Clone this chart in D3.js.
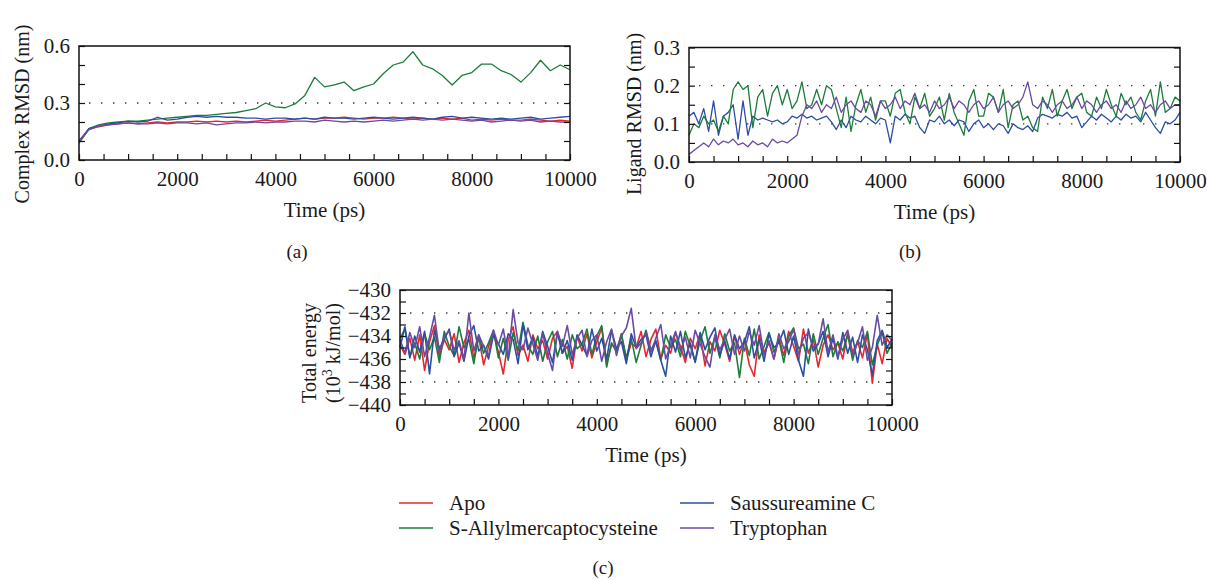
<!DOCTYPE html>
<html>
<head>
<meta charset="utf-8">
<script src="https://cdn.jsdelivr.net/npm/d3@7"></script>
<style>
  body { margin: 0; background: #fff; }
  svg text { font-family: "Liberation Serif", "Times New Roman", serif; fill: #1a1a1a; }
</style>
</head>
<body>
<div id="fig"></div>
<script>
// ---- data ----
const seriesNames = ['Apo', 'S-Allylmercaptocysteine', 'Saussureamine C', 'Tryptophan'];
const seriesColors = ['#e8262d', '#1c7c3a', '#2b4ea3', '#6a4aa2'];

// (a) complex RMSD, sampled every 200 ps
const timeA = d3.range(0, 10001, 200);
const complexApo = [
  0.09, 0.16, 0.175, 0.185, 0.19, 0.195, 0.19, 0.195, 0.2, 0.195,
  0.2, 0.2, 0.205, 0.2, 0.205, 0.2, 0.205, 0.2, 0.205, 0.21,
  0.205, 0.21, 0.215, 0.22, 0.215, 0.22, 0.22, 0.225, 0.22, 0.215,
  0.22, 0.22, 0.225, 0.22, 0.215, 0.22, 0.215, 0.22, 0.215, 0.22,
  0.21, 0.215, 0.21, 0.215, 0.21, 0.21, 0.215, 0.21, 0.205, 0.21,
  0.205];
const complexSAC = [
  0.09, 0.165, 0.185, 0.195, 0.2, 0.205, 0.205, 0.21, 0.215, 0.22,
  0.225, 0.23, 0.235, 0.235, 0.24, 0.245, 0.25, 0.26, 0.27, 0.3,
  0.28, 0.275, 0.295, 0.34, 0.435, 0.385, 0.395, 0.41, 0.365, 0.385,
  0.4, 0.455, 0.5, 0.515, 0.57, 0.5, 0.48, 0.445, 0.395, 0.445,
  0.46, 0.505, 0.505, 0.47, 0.45, 0.41, 0.46, 0.525, 0.47, 0.5,
  0.475];
const complexSaus = [
  0.1, 0.165, 0.18, 0.19, 0.195, 0.205, 0.2, 0.205, 0.225, 0.21,
  0.215, 0.225, 0.23, 0.225, 0.23, 0.225, 0.225, 0.22, 0.22, 0.215,
  0.22, 0.22, 0.215, 0.22, 0.215, 0.225, 0.22, 0.22, 0.215, 0.22,
  0.225, 0.22, 0.215, 0.22, 0.225, 0.22, 0.215, 0.225, 0.23, 0.22,
  0.225, 0.22, 0.215, 0.22, 0.215, 0.22, 0.225, 0.215, 0.22, 0.225,
  0.23];
const complexTrp = [
  0.1, 0.16, 0.18, 0.185, 0.19, 0.195, 0.19, 0.19, 0.195, 0.19,
  0.195, 0.195, 0.19, 0.195, 0.185, 0.19, 0.195, 0.195, 0.2, 0.195,
  0.2, 0.2, 0.205, 0.205, 0.2, 0.21, 0.205, 0.2, 0.205, 0.2,
  0.205, 0.21, 0.205, 0.21, 0.215, 0.21, 0.215, 0.21, 0.215, 0.21,
  0.205, 0.21, 0.2, 0.205, 0.21, 0.205, 0.21, 0.2, 0.205, 0.2,
  0.2];

// (b) ligand RMSD, sampled every 100 ps
const timeB = d3.range(0, 10001, 100);
const ligandSAC = [
  0.07, 0.1, 0.09, 0.12, 0.1, 0.11, 0.08, 0.12, 0.1, 0.19,
  0.21, 0.19, 0.2, 0.09, 0.17, 0.19, 0.12, 0.18, 0.2, 0.15,
  0.19, 0.14, 0.16, 0.21, 0.14, 0.15, 0.19, 0.15, 0.2, 0.19,
  0.14, 0.09, 0.17, 0.08, 0.15, 0.19, 0.13, 0.17, 0.11, 0.16,
  0.16, 0.12, 0.18, 0.19, 0.13, 0.1, 0.17, 0.14, 0.18, 0.12,
  0.14, 0.17, 0.11, 0.18, 0.13, 0.1, 0.07, 0.16, 0.19, 0.12,
  0.12, 0.18, 0.17, 0.13, 0.19, 0.09, 0.15, 0.16, 0.11, 0.12,
  0.09, 0.08, 0.17, 0.14, 0.19, 0.12, 0.16, 0.19, 0.14, 0.17,
  0.18, 0.13, 0.12, 0.17, 0.14, 0.19, 0.15, 0.12, 0.18, 0.15,
  0.17, 0.13, 0.11, 0.16, 0.19, 0.12, 0.21, 0.13, 0.14, 0.17,
  0.16];
const ligandSaus = [
  0.12, 0.13, 0.1, 0.14, 0.08, 0.16, 0.07, 0.12, 0.13, 0.15,
  0.06, 0.16, 0.07, 0.12, 0.11, 0.115, 0.11, 0.105, 0.11, 0.1,
  0.105, 0.12, 0.115, 0.125, 0.115, 0.12, 0.11, 0.115, 0.12, 0.105,
  0.085, 0.11, 0.09, 0.12, 0.11, 0.105, 0.12, 0.11, 0.1, 0.115,
  0.11, 0.05, 0.12, 0.11, 0.125, 0.115, 0.12, 0.09, 0.075, 0.11,
  0.105, 0.12, 0.1, 0.11, 0.095, 0.11, 0.105, 0.08, 0.1, 0.11,
  0.09, 0.1, 0.085, 0.1, 0.095, 0.075, 0.1, 0.09, 0.085, 0.095,
  0.08, 0.115, 0.125, 0.12, 0.115, 0.125, 0.12, 0.13, 0.115, 0.12,
  0.09, 0.105, 0.12, 0.11, 0.125, 0.115, 0.105, 0.12, 0.11, 0.125,
  0.115, 0.12, 0.105, 0.13, 0.11, 0.09, 0.075, 0.105, 0.1, 0.11,
  0.13];
const ligandTrp = [
  0.02, 0.03, 0.04, 0.05, 0.04, 0.06, 0.045, 0.055, 0.05, 0.06,
  0.045, 0.05, 0.04, 0.055, 0.045, 0.05, 0.04, 0.06, 0.05, 0.055,
  0.05, 0.06, 0.07, 0.12, 0.15, 0.14, 0.16, 0.13, 0.15, 0.14,
  0.17, 0.13, 0.15, 0.16, 0.14, 0.13, 0.16, 0.15, 0.12, 0.16,
  0.14, 0.15, 0.17, 0.14, 0.16, 0.15, 0.18, 0.14, 0.15, 0.13,
  0.16, 0.14, 0.15, 0.17, 0.14, 0.16, 0.15, 0.13, 0.15, 0.16,
  0.14, 0.15, 0.17, 0.13, 0.15, 0.16, 0.14, 0.15, 0.17, 0.21,
  0.15, 0.14, 0.16, 0.15, 0.13, 0.15, 0.16, 0.14, 0.15, 0.17,
  0.14, 0.16, 0.15, 0.13, 0.15, 0.16, 0.14, 0.15, 0.13, 0.16,
  0.14, 0.15, 0.17, 0.14, 0.15, 0.13, 0.15, 0.16, 0.14, 0.15,
  0.15];

// (c) total energy (10^3 kJ/mol), sampled every 100 ps
const timeC = d3.range(0, 10001, 100);
const energyApo = [
  -434.8, -435.6, -434.2, -436.1, -433.9, -437.0, -434.5, -433.1, -435.8, -434.3,
  -435.2, -433.8, -436.3, -434.6, -433.5, -435.9, -434.1, -436.5, -434.9, -433.7,
  -435.4, -437.3, -434.3, -433.2, -435.7, -434.8, -436.2, -433.9, -435.1, -434.4,
  -436.0, -434.2, -433.6, -435.5, -434.9, -436.8, -434.0, -435.3, -433.8, -435.9,
  -434.5, -433.3, -436.4, -434.7, -435.2, -433.9, -436.1, -434.6, -435.0, -433.6,
  -435.8, -434.3, -433.4, -436.0, -434.8, -435.5, -433.7, -434.9, -436.3, -434.2,
  -435.1, -433.8, -436.6, -434.5, -435.3, -433.5, -434.7, -436.2, -434.0, -435.6,
  -434.4, -436.5, -437.5, -433.9, -435.4, -434.6, -436.0, -434.2, -435.7, -433.6,
  -434.9, -436.2, -433.4, -435.5, -434.3, -436.7, -434.8, -433.9, -435.2, -434.6,
  -436.0, -433.7, -435.4, -434.5, -435.9, -433.8, -438.1, -434.7, -436.4, -434.2,
  -435.0];
const energySAC = [
  -434.2, -433.4, -435.8, -434.6, -436.0, -433.8, -435.2, -434.1, -436.3, -433.6,
  -434.9, -435.7, -433.2, -435.0, -434.3, -436.4, -433.9, -435.5, -434.6, -433.5,
  -435.9, -434.2, -436.1, -433.7, -435.3, -432.8, -434.8, -435.6, -434.0, -436.2,
  -434.5, -433.6, -435.8, -434.3, -436.0, -433.9, -435.1, -434.7, -433.4, -435.6,
  -434.0, -433.1, -436.7, -434.6, -435.4, -433.8, -435.9, -434.2, -436.3, -434.8,
  -433.5, -435.2, -434.5, -436.1, -433.9, -435.0, -434.3, -435.8, -433.6, -434.9,
  -436.2, -434.4, -433.2, -435.5, -434.1, -435.9, -433.8, -435.3, -434.6, -437.6,
  -434.2, -435.7, -433.4, -436.0, -434.9, -433.7, -435.4, -434.3, -436.3, -434.0,
  -433.3, -435.1, -434.7, -436.4, -433.8, -435.6, -434.2, -433.0, -435.8, -434.5,
  -435.3, -433.9, -436.1, -434.4, -435.0, -433.6, -436.5, -434.8, -433.7, -435.5,
  -434.6];
const energySaus = [
  -435.0, -433.2, -435.9, -434.0, -435.4, -433.6, -437.3, -433.5, -435.1, -434.3,
  -433.4, -435.8, -434.6, -436.2, -434.0, -433.1, -435.3, -434.8, -436.0, -433.9,
  -434.7, -435.6, -433.8, -434.3, -436.4, -433.0, -435.2, -434.1, -435.8, -433.6,
  -434.9, -436.3, -433.7, -435.5, -434.4, -436.1, -433.9, -434.8, -435.7, -433.4,
  -435.3, -434.2, -436.0, -433.5, -435.1, -434.5, -436.4, -433.8, -435.0, -434.3,
  -433.9, -435.8, -434.4, -436.1, -437.5, -434.0, -435.4, -433.6, -435.9, -434.6,
  -436.3, -433.7, -435.2, -434.1, -433.3, -435.7, -434.4, -436.0, -433.9, -435.1,
  -434.5, -433.2, -435.9, -434.3, -436.2, -433.8, -435.0, -434.6, -433.5, -435.6,
  -434.0, -436.1, -437.5, -433.4, -435.3, -434.7, -433.6, -435.8, -434.2, -436.0,
  -433.7, -435.5, -434.1, -436.3, -433.9, -435.2, -437.4, -434.4, -433.5, -435.0,
  -434.3];
const energyTrp = [
  -434.3, -435.5, -433.7, -435.0, -433.2, -435.8, -434.1, -432.2, -435.4, -434.0,
  -433.6, -435.2, -434.4, -436.0, -432.0, -435.3, -433.9, -434.9, -435.7, -433.5,
  -434.8, -433.4, -435.9, -431.7, -434.6, -435.2, -433.3, -434.7, -436.1, -433.8,
  -435.5, -437.0, -433.6, -434.9, -433.1, -435.6, -434.2, -433.5, -435.8, -434.4,
  -433.9, -436.2, -434.5, -433.4, -435.7, -434.0, -433.3, -431.6, -435.1, -434.6,
  -433.7, -435.4, -434.2, -433.0, -436.0, -434.8, -433.6, -435.3, -434.1, -435.9,
  -433.5, -434.7, -435.8, -436.7, -433.9, -435.2, -434.3, -433.4, -435.6, -434.0,
  -435.3, -433.6, -434.8, -433.1, -435.7, -434.4, -436.0, -433.8, -435.1, -434.5,
  -433.4, -435.6, -434.2, -433.7, -435.0, -434.7, -432.5, -435.4, -433.9, -435.8,
  -434.3, -433.5, -435.7, -434.6, -433.2, -436.1, -435.0, -432.2, -434.8, -433.9,
  -434.4];

// ---- drawing ----
const W = 1207, H = 580;
const svg = d3.select('#fig').append('svg')
  .attr('width', W)
  .attr('height', H);

svg.append('rect').attr('width', W).attr('height', H).attr('fill', '#fff');

const xTicks = d3.range(0, 10001, 500);
const fmtInt = d3.format('d');

function drawPanel(p) {
  const x = d3.scaleLinear().domain([0, 10000]).range([p.left, p.right]);
  const y = d3.scaleLinear().domain(p.yDomain).range([p.bottom, p.top]);
  const g = svg.append('g');

  // dotted reference lines
  p.dotted.forEach(v => {
    g.append('line')
      .attr('x1', p.left + 10).attr('x2', p.right)
      .attr('y1', y(v)).attr('y2', y(v))
      .attr('stroke', '#333')
      .attr('stroke-width', 1.4)
      .attr('stroke-dasharray', '1.4,10.6');
  });

  const line = d3.line()
    .x(d => x(d[0]))
    .y(d => y(d[1]));

  p.series.forEach(s => {
    g.append('path')
      .datum(s.values.map((v, i) => [p.time[i], v]))
      .attr('fill', 'none')
      .attr('stroke', seriesColors[s.idx])
      .attr('stroke-width', p.lw)
      .attr('stroke-linejoin', 'round')
      .attr('d', line);
  });

  // bottom axis with inward ticks
  const bottom = g.append('g')
    .attr('transform', `translate(0,${p.bottom})`)
    .call(d3.axisBottom(x).tickValues(xTicks).tickSizeInner(-6).tickSizeOuter(0)
      .tickPadding(11).tickFormat(d => d % 2000 === 0 ? fmtInt(d) : ''));

  const left = g.append('g')
    .attr('transform', `translate(${p.left},0)`)
    .call(d3.axisLeft(y).tickValues(p.yTicks).tickSizeInner(-6).tickSizeOuter(0)
      .tickPadding(9).tickFormat(d => p.yLabels.some(l => Math.abs(l - d) < 1e-9) ? p.yFmt(d) : ''));

  const right = g.append('g')
    .attr('transform', `translate(${p.right},0)`)
    .call(d3.axisRight(y).tickValues(p.yTicks).tickSizeInner(-6).tickSizeOuter(0).tickFormat(''));

  [bottom, left, right].forEach(a => {
    a.attr('font-family', null).attr('font-size', null);
    a.select('.domain').remove();
    a.selectAll('.tick line').attr('stroke', '#111').attr('stroke-width', 1.2);
    a.selectAll('.tick text').style('font-size', '21px').attr('fill', '#1a1a1a');
  });

  // frame
  g.append('rect')
    .attr('x', p.left).attr('y', p.top)
    .attr('width', p.right - p.left).attr('height', p.bottom - p.top)
    .attr('fill', 'none')
    .attr('stroke', '#111')
    .attr('stroke-width', 1.5);

  // x title
  g.append('text')
    .attr('x', (p.left + p.right) / 2)
    .attr('y', p.bottom + 57)
    .attr('text-anchor', 'middle')
    .style('font-size', '21px')
    .text('Time (ps)');

  // y title (one or two lines)
  p.yTitle.forEach((t, i) => {
    const txt = g.append('text')
      .attr('transform', `translate(${p.yTitleX[i]},${p.yTitleY}) rotate(-90)`)
      .attr('text-anchor', 'middle')
      .style('font-size', '20px');
    if (Array.isArray(t)) {
      txt.append('tspan').text(t[0]);
      txt.append('tspan').attr('dy', -8).style('font-size', '14px').text(t[1]);
      txt.append('tspan').attr('dy', 8).text(t[2]);
    } else {
      txt.text(t);
    }
  });

  // panel letter
  g.append('text')
    .attr('x', p.letterX).attr('y', p.letterY)
    .attr('text-anchor', 'middle')
    .style('font-size', '19px')
    .text(p.letter);
}

drawPanel({
  left: 79, right: 570, top: 46, bottom: 160,
  yDomain: [0, 0.6],
  yTicks: [0, 0.1, 0.2, 0.3, 0.4, 0.5, 0.6],
  yLabels: [0, 0.3, 0.6],
  yFmt: d3.format('.1f'),
  dotted: [0.3],
  time: timeA,
  lw: 1.3,
  series: [
    { idx: 0, values: complexApo },
    { idx: 1, values: complexSAC },
    { idx: 2, values: complexSaus },
    { idx: 3, values: complexTrp }
  ],
  yTitle: ['Complex RMSD (nm)'],
  yTitleX: [29], yTitleY: 114,
  letter: '(a)', letterX: 297, letterY: 258
});

drawPanel({
  left: 689, right: 1180, top: 47.5, bottom: 162,
  yDomain: [0, 0.3],
  yTicks: [0, 0.05, 0.1, 0.15, 0.2, 0.25, 0.3],
  yLabels: [0, 0.1, 0.2, 0.3],
  yFmt: d3.format('.1f'),
  dotted: [0.1, 0.2],
  time: timeB,
  lw: 1.3,
  series: [
    { idx: 2, values: ligandSaus },
    { idx: 1, values: ligandSAC },
    { idx: 3, values: ligandTrp }
  ],
  yTitle: ['Ligand RMSD (nm)'],
  yTitleX: [641], yTitleY: 114,
  letter: '(b)', letterX: 910, letterY: 258
});

drawPanel({
  left: 400, right: 892, top: 290, bottom: 405,
  yDomain: [-440, -430],
  yTicks: d3.range(-440, -429, 1),
  yLabels: [-440, -438, -436, -434, -432, -430],
  yFmt: fmtInt,
  dotted: [-432, -438],
  time: timeC,
  lw: 1.6,
  series: [
    { idx: 0, values: energyApo },
    { idx: 1, values: energySAC },
    { idx: 2, values: energySaus },
    { idx: 3, values: energyTrp }
  ],
  yTitle: ['Total energy', ['(10', '3', ' kJ/mol)']],
  yTitleX: [316, 340], yTitleY: 353,
  letter: '(c)', letterX: 603, letterY: 574
});

// legend
const legendRows = [
  { idx: 0, x: 399, y: 503 },
  { idx: 1, x: 399, y: 528 },
  { idx: 2, x: 680, y: 503 },
  { idx: 3, x: 680, y: 528 }
];
const legend = svg.append('g');
legendRows.forEach(r => {
  legend.append('line')
    .attr('x1', r.x).attr('x2', r.x + 34)
    .attr('y1', r.y).attr('y2', r.y)
    .attr('stroke', seriesColors[r.idx])
    .attr('stroke-width', 1.3);
  legend.append('text')
    .attr('x', r.x + 50).attr('y', r.y + 7)
    .style('font-size', '21px')
    .text(seriesNames[r.idx]);
});
</script>
</body>
</html>
